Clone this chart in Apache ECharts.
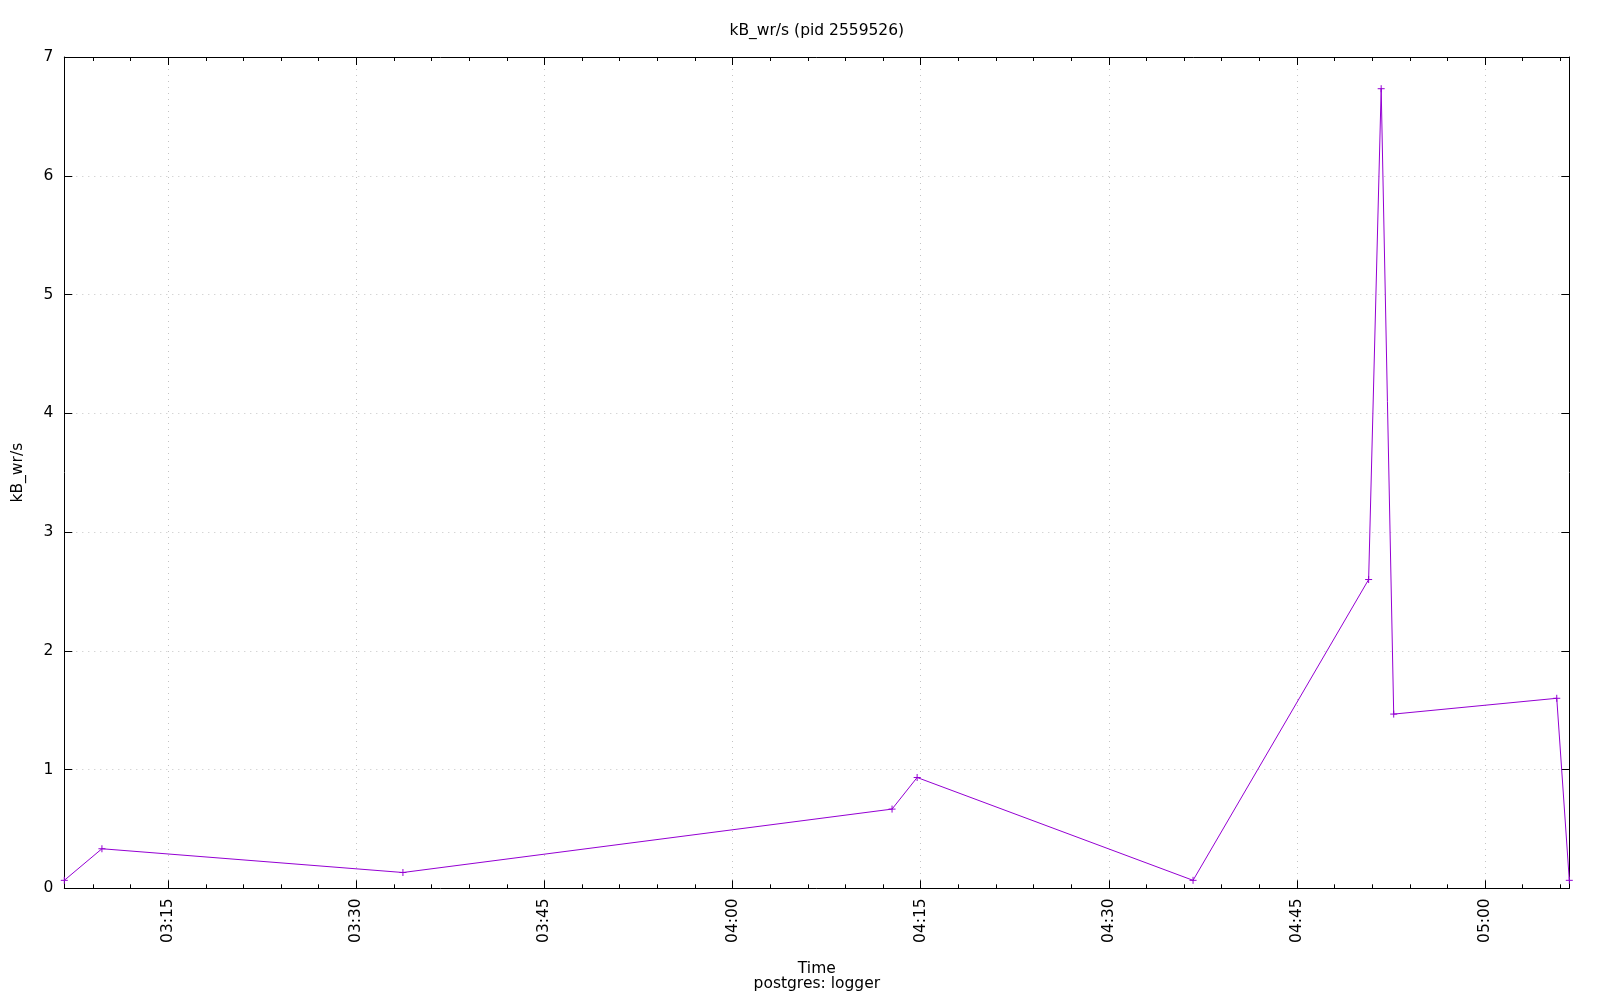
<!DOCTYPE html>
<html>
<head>
<meta charset="utf-8">
<script src="https://cdn.jsdelivr.net/npm/echarts@6/dist/echarts.min.js"></script>
<style>
html,body{margin:0;padding:0;background:#fff;}
#chart{width:1600px;height:1000px;}
</style>
</head>
<body>
<div id="chart"></div>
<script>
// Data
const chartTitle = 'kB_wr/s (pid 2559526)';
const yName = 'kB_wr/s';
const xName = 'Time';
const subName = 'postgres: logger';
const times = ['03:06:43','03:09:43','03:33:43','04:12:43','04:14:43','04:36:43','04:50:43','04:51:43','04:52:43','05:05:43','05:06:43'];
const kBwr = [0.067, 0.333, 0.133, 0.667, 0.933, 0.067, 2.6, 6.733, 1.467, 1.6, 0.067];
const yTicks = [0, 1, 2, 3, 4, 5, 6, 7];

// time -> quarter hours since midnight (so the axis' nice interval of 1 = 15 min)
function toQ(t) {
  const p = t.split(':').map(Number);
  return (p[0] * 3600 + p[1] * 60 + p[2]) / 900;
}
function fmtQ(v) {
  const mins = Math.round(v * 15);
  const h = Math.floor(mins / 60), m = mins % 60;
  return String(h).padStart(2, '0') + ':' + String(m).padStart(2, '0');
}
const xMin = toQ(times[0]);
const xMax = toQ(times[times.length - 1]);
const seriesData = times.map((t, i) => [toQ(t), kBwr[i]]);

const FONT = 'DejaVu Sans';
const FS = 15.5;
const gridLine = { show: true, lineStyle: { color: '#c4c4c4', width: 1, type: [1, 5] } };
const axLine = { show: true, onZero: false, lineStyle: { color: '#000', width: 1 } };
const majTick = { show: true, inside: true, length: 8, lineStyle: { color: '#000', width: 1 } };
const minTick = { show: true, splitNumber: 5, length: 4, lineStyle: { color: '#000', width: 1 } };

const chart = echarts.init(document.getElementById('chart'), null, { renderer: 'canvas' });
chart.setOption({
  backgroundColor: '#fff',
  animation: false,
  textStyle: { fontFamily: FONT },
  title: [
    { text: chartTitle, left: 816.8, top: 23, textAlign: 'center', padding: 0,
      textStyle: { fontFamily: FONT, fontSize: FS, fontWeight: 'normal', color: '#000', lineHeight: 16 } },
    { text: xName, left: 816.8, top: 961, textAlign: 'center', padding: 0,
      textStyle: { fontFamily: FONT, fontSize: FS, fontWeight: 'normal', color: '#000', lineHeight: 16 } },
    { text: subName, left: 816.8, top: 976, textAlign: 'center', padding: 0,
      textStyle: { fontFamily: FONT, fontSize: FS, fontWeight: 'normal', color: '#000', lineHeight: 16 } }
  ],
  grid: { left: 64.3, right: 30.7, top: 57, bottom: 111.7, show: false, containLabel: false },
  xAxis: [
    {
      type: 'value', position: 'bottom', min: xMin, max: xMax, splitNumber: 8,
      axisLine: axLine, axisTick: majTick, minorTick: minTick,
      axisLabel: { show: true, rotate: 90, margin: 10, color: '#000', fontFamily: FONT, fontSize: FS,
        showMinLabel: false, showMaxLabel: false, formatter: fmtQ },
      splitLine: gridLine
    },
    {
      type: 'value', position: 'top', min: xMin, max: xMax, splitNumber: 8,
      axisLine: axLine, axisTick: majTick, minorTick: minTick,
      axisLabel: { show: false },
      splitLine: { show: false }
    }
  ],
  yAxis: [
    {
      type: 'value', position: 'left', min: yTicks[0], max: yTicks[yTicks.length - 1], interval: 1,
      name: yName, nameLocation: 'middle', nameRotate: 90, nameGap: 38,
      nameTextStyle: { fontFamily: FONT, fontSize: FS, color: '#000' },
      axisLine: axLine, axisTick: majTick,
      axisLabel: { show: true, margin: 11, color: '#000', fontFamily: FONT, fontSize: FS },
      splitLine: gridLine
    },
    {
      type: 'value', position: 'right', min: yTicks[0], max: yTicks[yTicks.length - 1], interval: 1,
      axisLine: axLine, axisTick: majTick,
      axisLabel: { show: false },
      splitLine: { show: false }
    }
  ],
  series: [
    {
      type: 'line', name: yName, xAxisIndex: 0, yAxisIndex: 0,
      data: seriesData, clip: false,
      symbol: 'path://M0,5 L10,5 M5,0 L5,10', symbolSize: 7,
      itemStyle: { color: '#9400d3', borderColor: '#9400d3', borderWidth: 1 },
      lineStyle: { color: '#9400d3', width: 1 }
    }
  ]
});
</script>
</body>
</html>
